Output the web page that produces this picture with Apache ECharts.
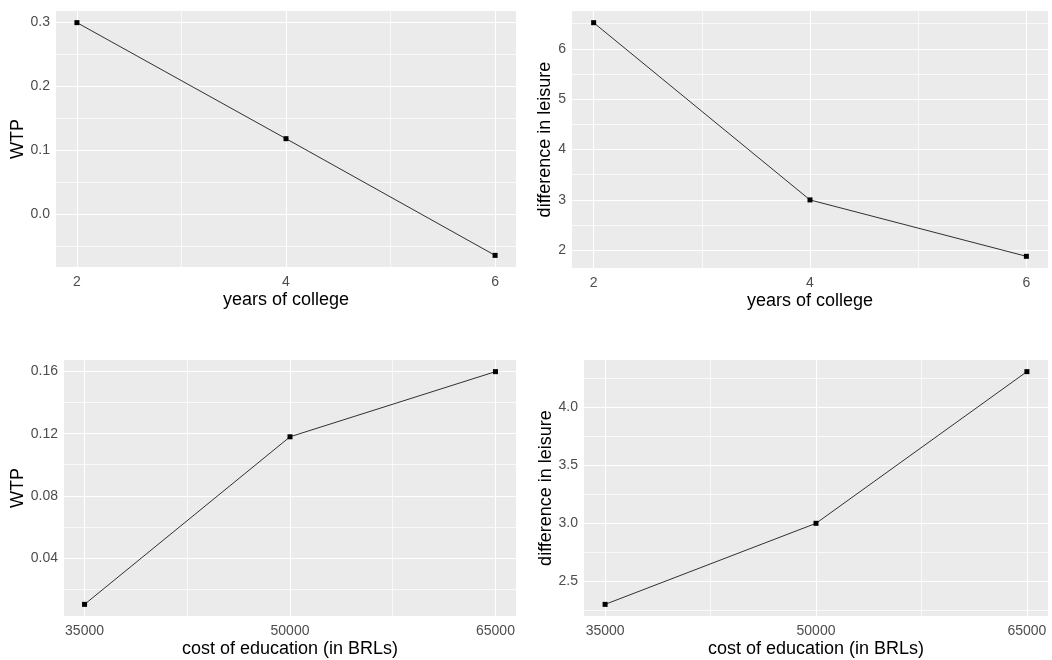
<!DOCTYPE html>
<html>
<head>
<meta charset="utf-8">
<script src="https://cdn.jsdelivr.net/npm/echarts@6/dist/echarts.min.js"></script>
<style>
  html, body { margin: 0; padding: 0; background: #ffffff; }
  #chart { width: 1052px; height: 660px; }
</style>
</head>
<body>
<div id="chart"></div>
<script>
// Simulated effects of years of college and education cost
const yearsOfCollege = [2, 4, 6];
const wtpByYears = [0.3, 0.118, -0.065];
const leisureByYears = [6.52, 3.0, 1.88];

const costOfEducation = [35000, 50000, 65000];
const wtpByCost = [0.01, 0.118, 0.16];
const leisureByCost = [2.3, 3.0, 4.31];

// Major breaks (labelled) and minor breaks (grid only)
const yearsTicks = [2, 4, 6];
const yearsLabels = ['2', '4', '6'];
const yearsMinor = [3, 5];

const costTicks = [35000, 50000, 65000];
const costLabels = ['35000', '50000', '65000'];
const costMinor = [42500, 57500];

const wtpYearsTicks = [0, 0.1, 0.2, 0.3];
const wtpYearsLabels = ['0.0', '0.1', '0.2', '0.3'];
const wtpYearsMinor = [-0.05, 0.05, 0.15, 0.25];

const leisureYearsTicks = [2, 3, 4, 5, 6];
const leisureYearsLabels = ['2', '3', '4', '5', '6'];
const leisureYearsMinor = [2.5, 3.5, 4.5, 5.5, 6.5];

const wtpCostTicks = [0.04, 0.08, 0.12, 0.16];
const wtpCostLabels = ['0.04', '0.08', '0.12', '0.16'];
const wtpCostMinor = [0.02, 0.06, 0.10, 0.14];

const leisureCostTicks = [2.5, 3.0, 3.5, 4.0];
const leisureCostLabels = ['2.5', '3.0', '3.5', '4.0'];
const leisureCostMinor = [2.25, 2.75, 3.25, 3.75, 4.25];

const FONT = '"Liberation Sans", Arial, "DejaVu Sans", sans-serif';

// 5% padding on each side of the data range
function expand(values) {
  const lo = Math.min(...values);
  const hi = Math.max(...values);
  const pad = (hi - lo) * 0.05;
  return [lo - pad, hi + pad];
}

function valueAxis(opts) {
  const [lo, hi] = expand(opts.values);
  const ticks = opts.ticks;
  const labels = opts.labels;
  const step = ticks[1] - ticks[0];
  return {
    type: 'value',
    gridIndex: opts.grid,
    min: lo,
    max: hi,
    name: opts.name,
    nameLocation: 'middle',
    nameGap: opts.nameGap,
    nameRotate: opts.isY ? 90 : 0,
    nameTextStyle: { fontSize: 18, color: '#000000', fontFamily: FONT },
    axisLine: { show: false },
    axisTick: { show: false },
    axisLabel: {
      customValues: ticks,
      fontSize: 14,
      color: '#4D4D4D',
      fontFamily: FONT,
      margin: opts.isY ? 6 : 8,
      formatter: function (v) {
        const i = ticks.findIndex(t => Math.abs(t - v) < step * 1e-6);
        return i < 0 ? '' : labels[i];
      }
    },
    splitLine: { show: false },
    minorSplitLine: { show: false }
  };
}

// White panel grid lines, drawn beneath the data
function gridSeries(grid, xMajor, xMinor, yMajor, yMinor) {
  const major = { color: '#FFFFFF', width: 1.1, type: 'solid' };
  const minor = { color: '#FFFFFF', width: 0.7, type: 'solid' };
  const data = []
    .concat(xMinor.map(v => ({ xAxis: v, lineStyle: minor })))
    .concat(yMinor.map(v => ({ yAxis: v, lineStyle: minor })))
    .concat(xMajor.map(v => ({ xAxis: v, lineStyle: major })))
    .concat(yMajor.map(v => ({ yAxis: v, lineStyle: major })));
  return {
    type: 'line',
    xAxisIndex: grid,
    yAxisIndex: grid,
    data: [],
    silent: true,
    z: 1,
    markLine: {
      silent: true,
      animation: false,
      symbol: ['none', 'none'],
      label: { show: false },
      emphasis: { disabled: true },
      data: data
    }
  };
}

function lineSeries(grid, xs, ys) {
  return {
    type: 'line',
    xAxisIndex: grid,
    yAxisIndex: grid,
    data: xs.map((x, i) => [x, ys[i]]),
    symbol: 'rect',
    symbolSize: 5,
    showSymbol: true,
    lineStyle: { color: '#000000', width: 0.8 },
    itemStyle: { color: '#000000' },
    silent: true,
    z: 5
  };
}

const panelGrid = { show: true, backgroundColor: '#EBEBEB', borderWidth: 0, containLabel: false };

const option = {
  animation: false,
  backgroundColor: '#FFFFFF',
  grid: [
    Object.assign({ left: 56, top: 11, width: 460, height: 256 }, panelGrid),
    Object.assign({ left: 572, top: 11, width: 476, height: 257 }, panelGrid),
    Object.assign({ left: 64, top: 360, width: 452, height: 256 }, panelGrid),
    Object.assign({ left: 584, top: 360, width: 464, height: 256 }, panelGrid)
  ],
  xAxis: [
    valueAxis({ grid: 0, values: yearsOfCollege, ticks: yearsTicks, labels: yearsLabels, name: 'years of college', nameGap: 24 }),
    valueAxis({ grid: 1, values: yearsOfCollege, ticks: yearsTicks, labels: yearsLabels, name: 'years of college', nameGap: 24 }),
    valueAxis({ grid: 2, values: costOfEducation, ticks: costTicks, labels: costLabels, name: 'cost of education (in BRLs)', nameGap: 24 }),
    valueAxis({ grid: 3, values: costOfEducation, ticks: costTicks, labels: costLabels, name: 'cost of education (in BRLs)', nameGap: 24 })
  ],
  yAxis: [
    valueAxis({ grid: 0, values: wtpByYears, ticks: wtpYearsTicks, labels: wtpYearsLabels, name: 'WTP', nameGap: 25, isY: true }),
    valueAxis({ grid: 1, values: leisureByYears, ticks: leisureYearsTicks, labels: leisureYearsLabels, name: 'difference in leisure', nameGap: 14, isY: true }),
    valueAxis({ grid: 2, values: wtpByCost, ticks: wtpCostTicks, labels: wtpCostLabels, name: 'WTP', nameGap: 33, isY: true }),
    valueAxis({ grid: 3, values: leisureByCost, ticks: leisureCostTicks, labels: leisureCostLabels, name: 'difference in leisure', nameGap: 26, isY: true })
  ],
  series: [
    gridSeries(0, yearsTicks, yearsMinor, wtpYearsTicks, wtpYearsMinor),
    gridSeries(1, yearsTicks, yearsMinor, leisureYearsTicks, leisureYearsMinor),
    gridSeries(2, costTicks, costMinor, wtpCostTicks, wtpCostMinor),
    gridSeries(3, costTicks, costMinor, leisureCostTicks, leisureCostMinor),
    lineSeries(0, yearsOfCollege, wtpByYears),
    lineSeries(1, yearsOfCollege, leisureByYears),
    lineSeries(2, costOfEducation, wtpByCost),
    lineSeries(3, costOfEducation, leisureByCost)
  ]
};

const chart = echarts.init(document.getElementById('chart'), null, { renderer: 'canvas' });
chart.setOption(option);
</script>
</body>
</html>
